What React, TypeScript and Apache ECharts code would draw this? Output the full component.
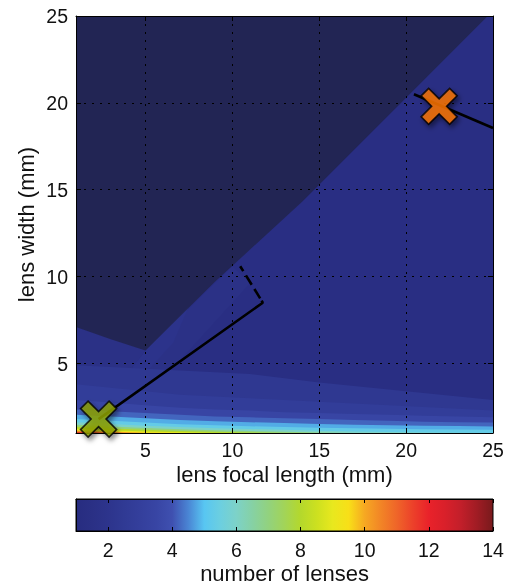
import React, { useEffect, useRef } from "react";
import * as echarts from "echarts";

// ---------- data ----------
const X_SAMPLES = [1, 3, 5, 7, 9, 11, 13, 15, 17, 19, 21, 23, 25];
const LEVEL_VALUES = [2.3, 2.8, 3.5, 4.2, 4.8, 5.3, 6.0, 7.0, 8.0, 9.0, 10.0, 11.5];
const LEVEL_23 = [4.9, 4.8, 4.7, 4.6, 4.5, 4.4, 4.15, 3.9, 3.7, 3.5, 3.3, 3.1, 2.9];
const LEVEL_28 = [3.8, 3.6, 3.4, 3.2, 3.1, 3.0, 2.9, 2.8, 2.7, 2.6, 2.5, 2.4, 2.3];
const LEVEL_35 = [2.9, 2.75, 2.6, 2.45, 2.35, 2.3, 2.2, 2.15, 2.1, 2.05, 2.0, 1.95, 1.9];
const LEVEL_42 = [2.35, 2.25, 2.15, 2.05, 1.95, 1.9, 1.85, 1.8, 1.75, 1.7, 1.65, 1.62, 1.6];
const LEVEL_48 = [2.05, 1.95, 1.85, 1.75, 1.68, 1.62, 1.57, 1.52, 1.48, 1.45, 1.42, 1.4, 1.38];
const LEVEL_53 = [1.8, 1.7, 1.6, 1.5, 1.44, 1.39, 1.34, 1.3, 1.27, 1.24, 1.22, 1.2, 1.18];
const LEVEL_60 = [1.62, 1.52, 1.42, 1.34, 1.28, 1.23, 1.18, 1.13, 1.09, 1.06, 1.03, 1.01, 1.0];
const LEVEL_70 = [1.48, 1.38, 1.29, 1.22, 1.16, 1.11, 1.07, 1.03, 1.0, 1.0, 1.0, 1.0, 1.0];
const LEVEL_80 = [1.36, 1.26, 1.18, 1.12, 1.07, 1.03, 1.0, 1.0, 1.0, 1.0, 1.0, 1.0, 1.0];
const LEVEL_90 = [1.25, 1.16, 1.09, 1.04, 1.0, 1.0, 1.0, 1.0, 1.0, 1.0, 1.0, 1.0, 1.0];
const LEVEL_100 = [1.15, 1.07, 1.02, 1.0, 1.0, 1.0, 1.0, 1.0, 1.0, 1.0, 1.0, 1.0, 1.0];
const LEVEL_115 = [1.07, 1.02, 1.0, 1.0, 1.0, 1.0, 1.0, 1.0, 1.0, 1.0, 1.0, 1.0, 1.0];
const LEVEL_CURVES = [LEVEL_23, LEVEL_28, LEVEL_35, LEVEL_42, LEVEL_48, LEVEL_53, LEVEL_60, LEVEL_70, LEVEL_80, LEVEL_90, LEVEL_100, LEVEL_115];

const BASE_VALUE = 1.3;
const LEFT_X = [1, 2.9, 5.0, 1];
const LEFT_Y = [3.0, 3.0, 5.75, 7.1];
const LEFT_VALUE = 1.6;
const WEDGE_OUTER_X = [2.9, 5.0, 10.0, 11.0, 7.0, 4.0];
const WEDGE_OUTER_Y = [3.0, 5.75, 10.6, 9.6, 5.2, 3.3];
const WEDGE_OUTER_VALUE = 1.6;
const WEDGE_INNER_X = [2.9, 5.0, 7.5, 6.6, 4.5];
const WEDGE_INNER_Y = [3.0, 5.75, 8.3, 6.2, 3.9];
const WEDGE_INNER_VALUE = 1.9;

const SHADE_X = [1, 1, 3, 5, 9, 14, 20, 24.7];
const SHADE_Y = [25, 7.1, 6.4, 5.75, 9.7, 14.3, 20.3, 25];

const GREEN_LINE_X = [2.3, 11.75, 11.68];
const GREEN_LINE_Y = [1.8, 8.5, 8.62];
const GREEN_DASH_X = [11.6, 10.45];
const GREEN_DASH_Y = [8.75, 10.6];
const ORANGE_LINE_X = [20.45, 25];
const ORANGE_LINE_Y = [20.5, 18.55];

const MARKER_X = [2.3, 21.9];
const MARKER_Y = [1.8, 19.8];
const MARKER_COLORS = ["#8ea200", "#ff7600"];

const AXIS_TICKS = [5, 10, 15, 20, 25];
const CB_MIN = 1;
const CB_MAX = 14;
const CB_TICKS = [2, 4, 6, 8, 10, 12, 14];

// colormap sampled every 0.5 from 1 to 14
const CMAP = [
  "#272c80", "#2a3085", "#2d348c", "#303a94", "#343f9c", "#3845a4", "#3f50b0",
  "#4a85d4", "#58c6f2", "#6ccfe0", "#7dd2c8", "#86d1a4", "#92d27e", "#a2d458",
  "#b4d82c", "#cce020", "#e8e81e", "#f8df18", "#f6a822", "#f28526", "#ef6529",
  "#ec412a", "#e9222a", "#d9202a", "#c21f2a", "#a01c24", "#781a1c",
];

const FONT = "'Liberation Sans', Arial, Helvetica, sans-serif";

export default function App() {
  const ref = useRef<HTMLDivElement>(null);
  useEffect(() => {
    if (!ref.current) return;
    const chart = echarts.init(ref.current, undefined, { renderer: "svg" });

    type Poly = { v: number; pts: number[][] };
    const zip = (xs: number[], ys: number[]) => xs.map((x, i) => [x, ys[i]]);
    const polys: Poly[] = [];
    polys.push({ v: BASE_VALUE, pts: [[1, 1], [25, 1], [25, 25], [1, 25]] });
    polys.push({ v: LEFT_VALUE, pts: zip(LEFT_X, LEFT_Y) });
    polys.push({ v: WEDGE_OUTER_VALUE, pts: zip(WEDGE_OUTER_X, WEDGE_OUTER_Y) });
    polys.push({ v: WEDGE_INNER_VALUE, pts: zip(WEDGE_INNER_X, WEDGE_INNER_Y) });
    LEVEL_CURVES.forEach((curve, k) => {
      const pts = zip(X_SAMPLES, curve);
      pts.push([25, 1], [1, 1]);
      polys.push({ v: LEVEL_VALUES[k], pts });
    });
    const shadePts = zip(SHADE_X, SHADE_Y);

    const cbStops = CMAP.map((c, i) => ({ offset: i / (CMAP.length - 1), color: c }));

    const axisLine = { show: true, lineStyle: { color: "#000", width: 1 } };
    const label = { color: "#111", fontSize: 19.5, fontFamily: FONT };
    const nameStyle = { color: "#111", fontSize: 22, fontFamily: FONT };

    chart.setOption({
      animation: false,
      grid: [
        { left: 76, top: 16, width: 417, height: 417 },
        { left: 76, top: 499, width: 417, height: 32 },
      ],
      visualMap: {
        type: "continuous",
        show: false,
        min: CB_MIN,
        max: CB_MAX,
        dimension: 0,
        seriesIndex: 0,
        inRange: { color: CMAP },
      },
      xAxis: [
        {
          gridIndex: 0, type: "value", min: 1, max: 25, position: "bottom", z: 10,
          axisLine,
          axisTick: { show: true, inside: true, length: 5, customValues: AXIS_TICKS, lineStyle: { color: "#000" } },
          axisLabel: { ...label, margin: 7, customValues: AXIS_TICKS },
          splitLine: { show: true, lineStyle: { color: "#000", width: 1, type: [2, 6] } },
          name: "lens focal length (mm)", nameLocation: "middle", nameGap: 30, nameMoveOverlap: false,
          nameTextStyle: nameStyle,
        },
        {
          gridIndex: 0, type: "value", min: 1, max: 25, position: "top", z: 10,
          axisLine,
          axisTick: { show: true, inside: true, length: 5, customValues: AXIS_TICKS, lineStyle: { color: "#000" } },
          axisLabel: { show: false },
          splitLine: { show: false },
        },
        {
          gridIndex: 1, type: "value", min: CB_MIN, max: CB_MAX, position: "bottom", z: 10,
          axisLine,
          axisTick: { show: true, inside: true, length: 4, customValues: CB_TICKS, lineStyle: { color: "#000" } },
          axisLabel: { ...label, margin: 9, customValues: CB_TICKS },
          splitLine: { show: false },
          name: "number of lenses", nameLocation: "middle", nameGap: 31, nameMoveOverlap: false,
          nameTextStyle: nameStyle,
        },
        {
          gridIndex: 1, type: "value", min: CB_MIN, max: CB_MAX, position: "top", z: 10,
          axisLine,
          axisTick: { show: true, inside: true, length: 4, customValues: CB_TICKS, lineStyle: { color: "#000" } },
          axisLabel: { show: false },
          splitLine: { show: false },
        },
      ],
      yAxis: [
        {
          gridIndex: 0, type: "value", min: 1, max: 25, position: "left", z: 10,
          axisLine,
          axisTick: { show: true, inside: true, length: 5, customValues: AXIS_TICKS, lineStyle: { color: "#000" } },
          axisLabel: { ...label, margin: 8, customValues: AXIS_TICKS },
          splitLine: { show: true, lineStyle: { color: "#000", width: 1, type: [2, 6] } },
          name: "lens width (mm)", nameLocation: "middle", nameGap: 39, nameMoveOverlap: false,
          nameTextStyle: nameStyle,
        },
        {
          gridIndex: 0, type: "value", min: 1, max: 25, position: "right", z: 10,
          axisLine,
          axisTick: { show: true, inside: true, length: 5, customValues: AXIS_TICKS, lineStyle: { color: "#000" } },
          axisLabel: { show: false },
          splitLine: { show: false },
        },
        {
          gridIndex: 1, type: "value", min: 0, max: 1, z: 10,
          axisLine: { show: true, lineStyle: { color: "#000" } },
          axisTick: { show: false }, axisLabel: { show: false }, splitLine: { show: false },
        },
      ],
      series: [
        {
          type: "custom", xAxisIndex: 0, yAxisIndex: 0, z: 1, clip: true,
          data: polys.map((p, i) => [p.v, i]),
          renderItem: (params: any, api: any) => {
            const poly = polys[api.value(1)];
            return {
              type: "polygon",
              shape: { points: poly.pts.map((p) => api.coord(p)) },
              style: { fill: api.visual("color"), stroke: null },
            };
          },
        },
        {
          type: "custom", xAxisIndex: 0, yAxisIndex: 0, z: 1, clip: true,
          data: [[0]],
          renderItem: (params: any, api: any) => ({
            type: "polygon",
            shape: { points: shadePts.map((p) => api.coord(p)) },
            style: { fill: "rgba(24,24,14,0.40)", stroke: null },
          }),
        },
        {
          type: "line", xAxisIndex: 0, yAxisIndex: 0, z: 20, showSymbol: false, symbol: "none",
          data: zip(GREEN_LINE_X, GREEN_LINE_Y),
          lineStyle: { color: "#000", width: 2.6 },
        },
        {
          type: "line", xAxisIndex: 0, yAxisIndex: 0, z: 20, showSymbol: false, symbol: "none",
          data: zip(GREEN_DASH_X, GREEN_DASH_Y),
          lineStyle: { color: "#000", width: 2.6, type: [11, 5] },
        },
        {
          type: "line", xAxisIndex: 0, yAxisIndex: 0, z: 20, showSymbol: false, symbol: "none",
          data: zip(ORANGE_LINE_X, ORANGE_LINE_Y),
          lineStyle: { color: "#000", width: 2.6 },
        },
        {
          type: "scatter", xAxisIndex: 0, yAxisIndex: 0, z: 30,
          symbol: "path://M-3,-1.75 L-1.75,-3 L0,-1.25 L1.75,-3 L3,-1.75 L1.25,0 L3,1.75 L1.75,3 L0,1.25 L-1.75,3 L-3,1.75 L-1.25,0 Z",
          symbolSize: 36,
          data: MARKER_X.map((x, i) => ({
            value: [x, MARKER_Y[i]],
            itemStyle: { color: MARKER_COLORS[i] },
          })),
          itemStyle: {
            borderColor: "#000", borderWidth: 1.6,
            shadowBlur: 5, shadowColor: "rgba(0,0,0,0.55)", shadowOffsetX: 2, shadowOffsetY: 3,
          },
        },
        {
          type: "custom", xAxisIndex: 2, yAxisIndex: 2, z: 1,
          data: [[CB_MIN, CB_MAX]],
          renderItem: (params: any, api: any) => {
            const p0 = api.coord([api.value(0), 1]);
            const p1 = api.coord([api.value(1), 0]);
            return {
              type: "rect",
              shape: { x: p0[0], y: p0[1], width: p1[0] - p0[0], height: p1[1] - p0[1] },
              style: { fill: new echarts.graphic.LinearGradient(0, 0, 1, 0, cbStops), stroke: "#000", lineWidth: 1 },
            };
          },
        },
      ],
    });
    return () => chart.dispose();
  }, []);
  return <div ref={ref} style={{ position: "fixed", left: 0, top: 0, width: 508, height: 587 }} />;
}
